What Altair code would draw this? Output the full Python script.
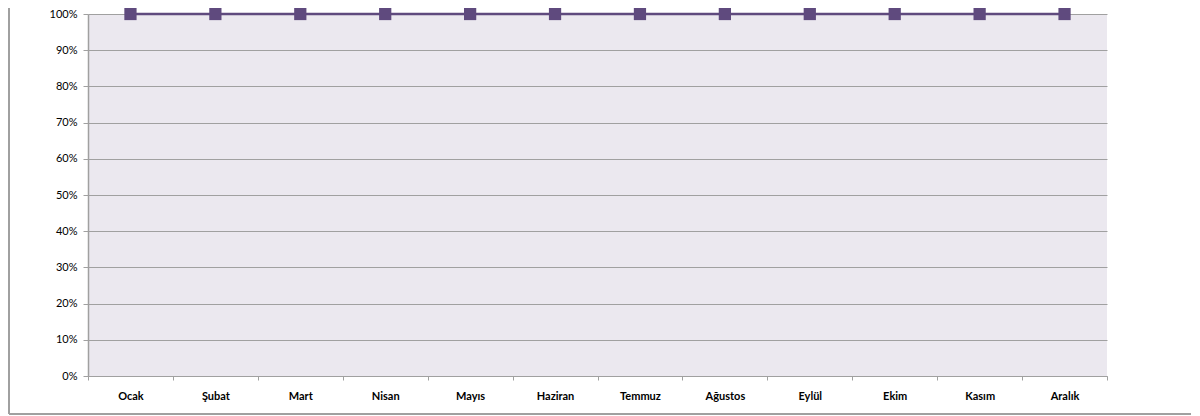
import altair as alt
import pandas as pd

months = ["Ocak", "Şubat", "Mart", "Nisan", "Mayıs", "Haziran",
          "Temmuz", "Ağustos", "Eylül", "Ekim", "Kasım", "Aralık"]
values = [1.0, 1.0, 1.0, 1.0, 1.0, 1.0, 1.0, 1.0, 1.0, 1.0, 1.0, 1.0]

df = pd.DataFrame({"month": months, "value": values})

W, H = 1019, 362
PURPLE = "#5F4A7E"
FONT = "Lato"

x = alt.X("month:N", sort=months, title=None,
          axis=alt.Axis(labelAngle=0, labelFontWeight="bold", labelFontSize=11,
                        labelFont=FONT, labelColor="#000000", labelPadding=10,
                        tickBand="extent", tickSize=4, tickColor="#A0A0A0",
                        domainColor="#A0A0A0", grid=False))
y = alt.Y("value:Q", title=None,
          scale=alt.Scale(domain=[0, 1], nice=False),
          axis=alt.Axis(format="%", values=[i / 10 for i in range(11)],
                        labelFontSize=11, labelFont=FONT, labelColor="#000000",
                        tickSize=5, tickColor="#A0A0A0", domainColor="#A0A0A0",
                        domainWidth=1.5,
                        labelPadding=6, grid=True, gridColor="#A0A0A0",
                        gridWidth=1))

base = alt.Chart(df)
line = base.mark_line(color=PURPLE, strokeWidth=2.5).encode(x=x, y=y)
pts = base.mark_square(color=PURPLE, size=150, opacity=1, filled=True).encode(x=x, y=y)

frame_left = alt.Chart(df).mark_rule(color="#A0A0A0", strokeWidth=1.5).encode(
    x=alt.value(-79), y=alt.value(-20), y2=alt.value(H + 38))
frame_bottom = alt.Chart(df).mark_rule(color="#A0A0A0", strokeWidth=1.5).encode(
    x=alt.value(-79), x2=alt.value(W + 100), y=alt.value(H + 38))

chart = alt.layer(line, pts, frame_left, frame_bottom).properties(
    width=W, height=H,
    autosize=alt.AutoSizeParams(type="none"),
    padding={"left": 80, "top": 6, "right": 84, "bottom": 40},
).configure_view(fill="#EBE8EF", stroke=None)

chart.save("out.html", embed_options={"renderer": "svg", "actions": False})
